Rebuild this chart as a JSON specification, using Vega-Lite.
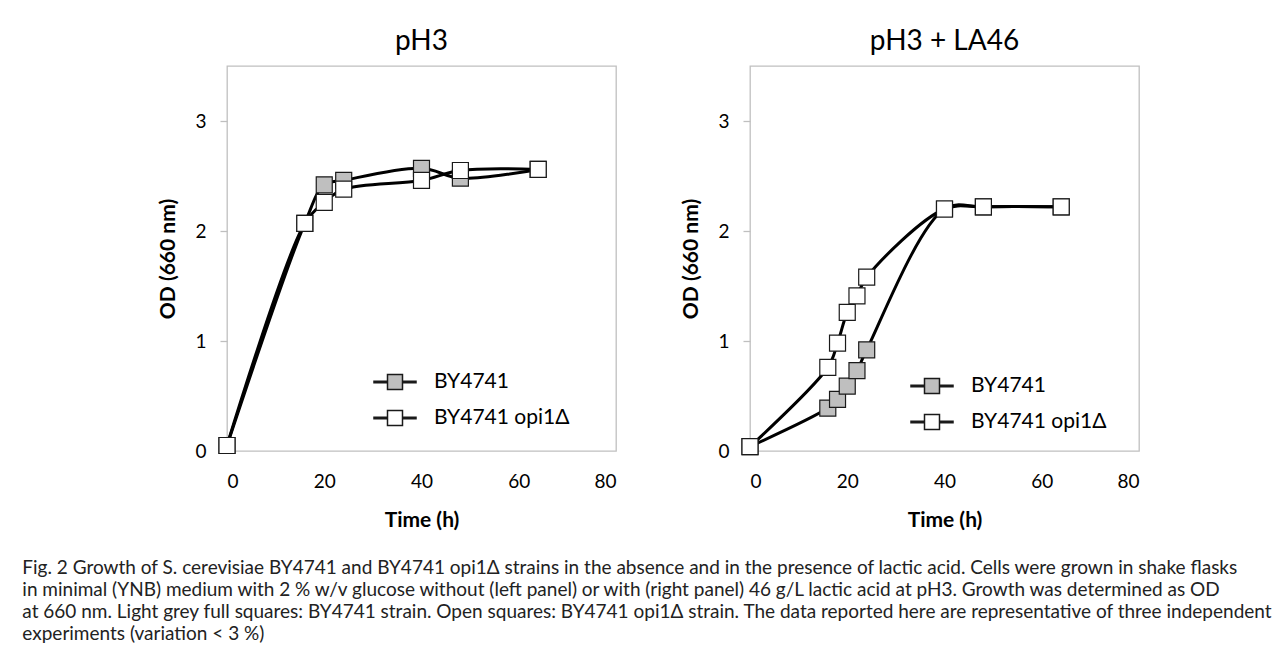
{
  "$schema": "https://vega.github.io/schema/vega-lite/v6.json",
  "background": "white",
  "padding": {"left": 22, "top": 27, "right": 0, "bottom": 0},
  "config": {
    "font": "Lato",
    "view": {"stroke": "#c0c0c0", "strokeWidth": 1.3},
    "axis": {
      "labelFont": "Lato", "labelFontSize": 19, "labelColor": "#000",
      "titleFont": "Lato", "titleFontSize": 21, "titleFontWeight": "bold", "titleColor": "#000",
      "grid": false, "domain": false
    },
    "axisX": {"ticks": false, "labelPadding": 21, "titlePadding": 18},
    "axisY": {"ticks": true, "tickSize": 7, "tickColor": "#bfbfbf", "tickWidth": 1.3, "labelPadding": 14, "titlePadding": 16}
  },
  "title": {
    "text": [
      "Fig. 2  Growth of S. cerevisiae BY4741 and BY4741 opi1Δ strains in the absence and in the presence of lactic acid. Cells were grown in shake flasks",
      "in minimal (YNB) medium with 2 % w/v glucose without (left panel) or with (right panel) 46 g/L lactic acid at pH3. Growth was determined as OD",
      "at 660 nm. Light grey full squares: BY4741 strain. Open squares: BY4741 opi1Δ strain. The data reported here are representative of three independent",
      "experiments (variation < 3 %)"
    ],
    "orient": "bottom", "anchor": "start", "font": "Lato", "fontSize": 19, "fontWeight": "normal",
    "lineHeight": 22, "dx": -135, "offset": 28, "color": "#222"
  },
  "data": {
    "values": [
      {"panel": "pH3", "strain": "BY4741", "time": 0, "od": 0.05},
      {"panel": "pH3", "strain": "BY4741", "time": 16, "od": 2.07},
      {"panel": "pH3", "strain": "BY4741", "time": 20, "od": 2.42},
      {"panel": "pH3", "strain": "BY4741", "time": 24, "od": 2.46},
      {"panel": "pH3", "strain": "BY4741", "time": 40, "od": 2.57},
      {"panel": "pH3", "strain": "BY4741", "time": 48, "od": 2.48},
      {"panel": "pH3", "strain": "BY4741", "time": 64, "od": 2.56},
      {"panel": "pH3", "strain": "BY4741 opi1Δ", "time": 0, "od": 0.05},
      {"panel": "pH3", "strain": "BY4741 opi1Δ", "time": 16, "od": 2.07},
      {"panel": "pH3", "strain": "BY4741 opi1Δ", "time": 20, "od": 2.26},
      {"panel": "pH3", "strain": "BY4741 opi1Δ", "time": 24, "od": 2.38},
      {"panel": "pH3", "strain": "BY4741 opi1Δ", "time": 40, "od": 2.46},
      {"panel": "pH3", "strain": "BY4741 opi1Δ", "time": 48, "od": 2.55},
      {"panel": "pH3", "strain": "BY4741 opi1Δ", "time": 64, "od": 2.56},
      {"panel": "pH3 + LA46", "strain": "BY4741", "time": 0, "od": 0.04},
      {"panel": "pH3 + LA46", "strain": "BY4741", "time": 16, "od": 0.39},
      {"panel": "pH3 + LA46", "strain": "BY4741", "time": 18, "od": 0.47},
      {"panel": "pH3 + LA46", "strain": "BY4741", "time": 20, "od": 0.59},
      {"panel": "pH3 + LA46", "strain": "BY4741", "time": 22, "od": 0.73},
      {"panel": "pH3 + LA46", "strain": "BY4741", "time": 24, "od": 0.92},
      {"panel": "pH3 + LA46", "strain": "BY4741", "time": 40, "od": 2.2},
      {"panel": "pH3 + LA46", "strain": "BY4741", "time": 48, "od": 2.22},
      {"panel": "pH3 + LA46", "strain": "BY4741", "time": 64, "od": 2.22},
      {"panel": "pH3 + LA46", "strain": "BY4741 opi1Δ", "time": 0, "od": 0.04},
      {"panel": "pH3 + LA46", "strain": "BY4741 opi1Δ", "time": 16, "od": 0.76},
      {"panel": "pH3 + LA46", "strain": "BY4741 opi1Δ", "time": 18, "od": 0.98},
      {"panel": "pH3 + LA46", "strain": "BY4741 opi1Δ", "time": 20, "od": 1.26},
      {"panel": "pH3 + LA46", "strain": "BY4741 opi1Δ", "time": 22, "od": 1.41},
      {"panel": "pH3 + LA46", "strain": "BY4741 opi1Δ", "time": 24, "od": 1.58},
      {"panel": "pH3 + LA46", "strain": "BY4741 opi1Δ", "time": 40, "od": 2.2},
      {"panel": "pH3 + LA46", "strain": "BY4741 opi1Δ", "time": 48, "od": 2.22},
      {"panel": "pH3 + LA46", "strain": "BY4741 opi1Δ", "time": 64, "od": 2.22}
    ]
  },
  "hconcat": [
    {
      "title": {"text": "pH3", "fontSize": 28, "fontWeight": "normal", "font": "Lato", "offset": 10, "color": "#000"},
      "width": 389, "height": 385,
      "transform": [{"filter": "datum.panel === 'pH3'"}],
      "encoding": {
        "x": {"field": "time", "type": "quantitative", "scale": {"domain": [0, 80]}, "axis": {"values": [0, 20, 40, 60, 80], "title": "Time (h)"}},
        "y": {"field": "od", "type": "quantitative", "scale": {"domain": [0, 3.5]}, "axis": {"values": [0, 1, 2, 3], "title": "OD (660 nm)"}}
      },
      "layer": [
        {"transform": [{"filter": "datum.strain === 'BY4741'"}], "mark": {"type": "line", "interpolate": "catmull-rom", "color": "#000", "strokeWidth": 3}},
        {"transform": [{"filter": "datum.strain === 'BY4741'"}], "mark": {"type": "point", "shape": "square", "filled": true, "size": 256, "stroke": "#1a1a1a", "strokeWidth": 1.2, "opacity": 1},
         "encoding": {"fill": {"field": "strain", "type": "nominal", "scale": {"domain": ["BY4741", "BY4741 opi1Δ"], "range": ["#bfbfbf", "#ffffff"]},
           "legend": {"orient": "none", "legendX": 146, "legendY": 294, "title": null, "labelFont": "Lato", "labelFontSize": 21, "labelColor": "#000", "symbolSize": 1764, "labelOffset": 17, "rowPadding": 3, "symbolOpacity": 1,
             "symbolType": "M-1,-0.04H-0.357V0.04H-1Z M0.357,-0.04H1V0.04H0.357Z M-0.357,-0.357H0.357V0.357H-0.357Z",
             "encode": {"symbols": {"update": {"shape": {"value": "M-1,-0.04H-0.357V0.04H-1Z M0.357,-0.04H1V0.04H0.357Z M-0.357,-0.357H0.357V0.357H-0.357Z"}, "stroke": {"value": "#000"}, "strokeWidth": {"value": 1.2}, "opacity": {"value": 1}}}}}}}},
        {"transform": [{"filter": "datum.strain === 'BY4741 opi1Δ'"}], "mark": {"type": "line", "interpolate": "catmull-rom", "color": "#000", "strokeWidth": 3}},
        {"transform": [{"filter": "datum.strain === 'BY4741 opi1Δ'"}], "mark": {"type": "point", "shape": "square", "filled": true, "size": 256, "stroke": "#1a1a1a", "strokeWidth": 1.2, "opacity": 1},
         "encoding": {"fill": {"field": "strain", "type": "nominal", "scale": {"domain": ["BY4741", "BY4741 opi1Δ"], "range": ["#bfbfbf", "#ffffff"]}}}}
      ]
    },
    {
      "title": {"text": "pH3 + LA46", "fontSize": 28, "fontWeight": "normal", "font": "Lato", "offset": 10, "color": "#000"},
      "width": 389, "height": 385,
      "transform": [{"filter": "datum.panel === 'pH3 + LA46'"}],
      "encoding": {
        "x": {"field": "time", "type": "quantitative", "scale": {"domain": [0, 80]}, "axis": {"values": [0, 20, 40, 60, 80], "title": "Time (h)"}},
        "y": {"field": "od", "type": "quantitative", "scale": {"domain": [0, 3.5]}, "axis": {"values": [0, 1, 2, 3], "title": "OD (660 nm)"}}
      },
      "layer": [
        {"transform": [{"filter": "datum.strain === 'BY4741'"}], "mark": {"type": "line", "interpolate": "catmull-rom", "color": "#000", "strokeWidth": 3}},
        {"transform": [{"filter": "datum.strain === 'BY4741'"}], "mark": {"type": "point", "shape": "square", "filled": true, "size": 256, "stroke": "#1a1a1a", "strokeWidth": 1.2, "opacity": 1},
         "encoding": {"fill": {"field": "strain", "type": "nominal", "scale": {"domain": ["BY4741", "BY4741 opi1Δ"], "range": ["#bfbfbf", "#ffffff"]},
           "legend": {"orient": "none", "legendX": 160, "legendY": 298, "title": null, "labelFont": "Lato", "labelFontSize": 21, "labelColor": "#000", "symbolSize": 1764, "labelOffset": 17, "rowPadding": 3, "symbolOpacity": 1,
             "symbolType": "M-1,-0.04H-0.357V0.04H-1Z M0.357,-0.04H1V0.04H0.357Z M-0.357,-0.357H0.357V0.357H-0.357Z",
             "encode": {"symbols": {"update": {"shape": {"value": "M-1,-0.04H-0.357V0.04H-1Z M0.357,-0.04H1V0.04H0.357Z M-0.357,-0.357H0.357V0.357H-0.357Z"}, "stroke": {"value": "#000"}, "strokeWidth": {"value": 1.2}, "opacity": {"value": 1}}}}}}}},
        {"transform": [{"filter": "datum.strain === 'BY4741 opi1Δ'"}], "mark": {"type": "line", "interpolate": "catmull-rom", "color": "#000", "strokeWidth": 3}},
        {"transform": [{"filter": "datum.strain === 'BY4741 opi1Δ'"}], "mark": {"type": "point", "shape": "square", "filled": true, "size": 256, "stroke": "#1a1a1a", "strokeWidth": 1.2, "opacity": 1},
         "encoding": {"fill": {"field": "strain", "type": "nominal", "scale": {"domain": ["BY4741", "BY4741 opi1Δ"], "range": ["#bfbfbf", "#ffffff"]}}}}
      ]
    }
  ],
  "bounds": "flush",
  "spacing": 134,
  "resolve": {"scale": {"fill": "independent"}, "legend": {"fill": "independent"}}
}
